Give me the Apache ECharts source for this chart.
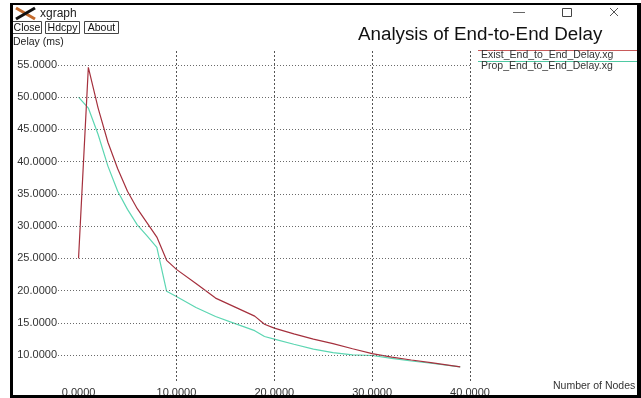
<!DOCTYPE html>
<html>
<head>
<meta charset="utf-8">
<script src="https://cdn.jsdelivr.net/npm/echarts@6/dist/echarts.min.js"></script>
<style>
html,body{margin:0;padding:0;background:#fff;}
#chart{width:641px;height:398px;}
</style>
</head>
<body>
<div id="chart"></div>
<script>
// ---- data ----
const nodes      = [0, 1, 2, 3, 4, 5, 6, 7, 8, 9, 10, 12, 14, 16, 18, 19, 20, 22, 24, 26, 28, 30, 32, 34, 36, 39];
const existDelay = [25, 54.6, 48.3, 43.0, 38.9, 35.4, 32.7, 30.5, 28.3, 24.7, 23.3, 21.1, 18.85, 17.45, 16.05, 14.8, 14.2, 13.3, 12.5, 11.8, 11.0, 10.25, 9.7, 9.25, 8.85, 8.2];
const propDelay  = [50, 48.3, 44.2, 39.3, 35.4, 32.6, 30.2, 28.5, 26.7, 19.9, 19.1, 17.4, 16.0, 14.9, 13.8, 12.9, 12.5, 11.7, 10.95, 10.4, 10.05, 9.95, 9.5, 9.1, 8.75, 8.2];
const xTickValues = [0, 10, 20, 30, 40];
const xGridValues = [10, 20, 30, 40];
const yTickValues = [10, 15, 20, 25, 30, 35, 40, 45, 50, 55];
const seriesNames = ['Exist_End_to_End_Delay.xg', 'Prop_End_to_End_Delay.xg'];
const titleText = 'Analysis of End-to-End Delay';
const yAxisTitle = 'Delay (ms)';
const xAxisTitle = 'Number of Nodes';

const RED = '#a5303d';
const GREEN = '#5cd6b2';
const FONT = '"Liberation Sans", Arial, sans-serif';

const chart = echarts.init(document.getElementById('chart'), null, {renderer: 'canvas'});

const gridLines = [];
yTickValues.forEach(v => gridLines.push({yAxis: v, lineStyle: {color: '#6a6a6a', width: 1, type: [1, 2]}}));
xGridValues.forEach(v => gridLines.push({xAxis: v, lineStyle: {color: '#555', width: 1, type: [2, 2]}}));

const option = {
  animation: false,
  backgroundColor: '#fff',
  grid: {left: 58, right: 171, top: 51, bottom: 13, containLabel: false},
  xAxis: {
    type: 'value', min: -2.1, max: 40,
    axisLine: {show: false}, axisTick: {show: false}, splitLine: {show: false},
    axisLabel: {customValues: xTickValues, formatter: v => v.toFixed(4), margin: 6,
      fontSize: 11, color: '#333', fontFamily: FONT}
  },
  yAxis: {
    type: 'value', min: 6, max: 57.14,
    axisLine: {show: false}, axisTick: {show: false}, splitLine: {show: false},
    axisLabel: {customValues: yTickValues, formatter: v => v.toFixed(4), margin: 1,
      fontSize: 11, color: '#333', fontFamily: FONT}
  },
  series: [
    {
      type: 'line', name: 'grid', z: 1, silent: true,
      data: nodes.map((x, i) => [x, existDelay[i]]),
      symbol: 'none', lineStyle: {opacity: 0},
      markLine: {silent: true, symbol: 'none', label: {show: false}, animation: false, data: gridLines}
    },
    {
      type: 'line', name: seriesNames[0], z: 3,
      data: nodes.map((x, i) => [x, existDelay[i]]),
      symbol: 'none', lineStyle: {color: RED, width: 1.2}, itemStyle: {color: RED}
    },
    {
      type: 'line', name: seriesNames[1], z: 2,
      data: nodes.map((x, i) => [x, propDelay[i]]),
      symbol: 'none', lineStyle: {color: GREEN, width: 1.2}, itemStyle: {color: GREEN}
    }
  ],
  graphic: [
    // window title bar
    {type: 'line', shape: {x1: 16, y1: 8, x2: 35, y2: 19}, style: {stroke: '#c46a2c', lineWidth: 3}},
    {type: 'line', shape: {x1: 16, y1: 19, x2: 35, y2: 8}, style: {stroke: '#111', lineWidth: 3}},
    {type: 'text', x: 40, y: 13.5, style: {text: 'xgraph', fontSize: 12, fontFamily: FONT, fill: '#222', verticalAlign: 'middle'}},
    {type: 'line', shape: {x1: 513, y1: 12.5, x2: 525, y2: 12.5}, style: {stroke: '#666', lineWidth: 1}},
    {type: 'rect', shape: {x: 562.5, y: 8.5, width: 9, height: 8}, style: {fill: 'none', stroke: '#444', lineWidth: 1}},
    {type: 'line', shape: {x1: 610, y1: 8, x2: 618, y2: 16}, style: {stroke: '#555', lineWidth: 1}},
    {type: 'line', shape: {x1: 610, y1: 16, x2: 618, y2: 8}, style: {stroke: '#555', lineWidth: 1}},
    // buttons
    {type: 'rect', shape: {x: 12.5, y: 21.5, width: 29, height: 12}, style: {fill: '#fff', stroke: '#444', lineWidth: 1}},
    {type: 'text', x: 27, y: 27.8, style: {text: 'Close', fontSize: 10.5, fontFamily: FONT, fill: '#111', align: 'center', verticalAlign: 'middle'}},
    {type: 'rect', shape: {x: 45.5, y: 21.5, width: 34, height: 12}, style: {fill: '#fff', stroke: '#444', lineWidth: 1}},
    {type: 'text', x: 62.5, y: 27.8, style: {text: 'Hdcpy', fontSize: 10.5, fontFamily: FONT, fill: '#111', align: 'center', verticalAlign: 'middle'}},
    {type: 'rect', shape: {x: 84.5, y: 21.5, width: 34, height: 12}, style: {fill: '#fff', stroke: '#444', lineWidth: 1}},
    {type: 'text', x: 101.5, y: 27.8, style: {text: 'About', fontSize: 10.5, fontFamily: FONT, fill: '#111', align: 'center', verticalAlign: 'middle'}},
    // titles
    {type: 'text', x: 358, y: 35, style: {text: titleText, fontSize: 18.8, fontFamily: FONT, fill: '#111', verticalAlign: 'middle'}},
    {type: 'text', x: 13, y: 42.5, style: {text: yAxisTitle, fontSize: 10.5, fontFamily: FONT, fill: '#222', verticalAlign: 'middle'}},
    {type: 'text', x: 553, y: 386, style: {text: xAxisTitle, fontSize: 10.5, fontFamily: FONT, fill: '#333', verticalAlign: 'middle'}},
    // legend
    {type: 'line', shape: {x1: 478, y1: 50.5, x2: 640, y2: 50.5}, style: {stroke: '#c85a5a', lineWidth: 1}},
    {type: 'text', x: 481, y: 55.5, style: {text: seriesNames[0], fontSize: 10.5, fontFamily: FONT, fill: '#333', verticalAlign: 'middle'}},
    {type: 'line', shape: {x1: 478, y1: 61.5, x2: 640, y2: 61.5}, style: {stroke: '#4fc9a3', lineWidth: 1}},
    {type: 'text', x: 481, y: 66, style: {text: seriesNames[1], fontSize: 10.5, fontFamily: FONT, fill: '#333', verticalAlign: 'middle'}},
    // window frame
    {type: 'rect', z: 100, shape: {x: 10, y: 3, width: 3, height: 395}, style: {fill: '#000'}},
    {type: 'rect', z: 100, shape: {x: 10, y: 3, width: 631, height: 2}, style: {fill: '#000'}},
    {type: 'rect', z: 100, shape: {x: 637, y: 3, width: 4, height: 395}, style: {fill: '#000'}},
    {type: 'rect', z: 100, shape: {x: 10, y: 395, width: 631, height: 3}, style: {fill: '#000'}}
  ]
};
chart.setOption(option);
</script>
</body>
</html>
